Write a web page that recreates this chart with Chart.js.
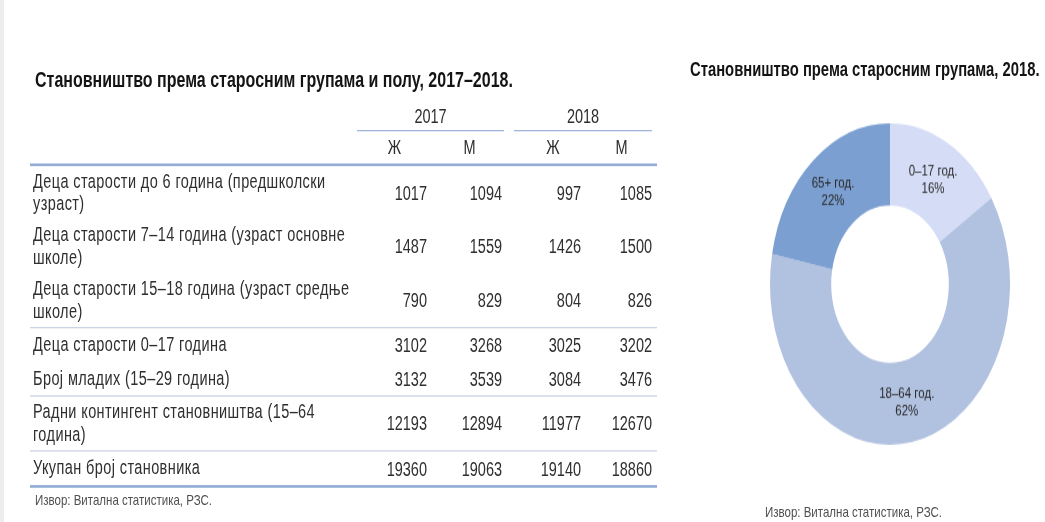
<!DOCTYPE html>
<html lang="sr">
<head>
<meta charset="utf-8">
<script src="https://cdn.jsdelivr.net/npm/chart.js@4.4.1/dist/chart.umd.min.js"></script>
<style>
    html, body { margin: 0; padding: 0; background: #fff; }
    body { width: 1045px; height: 522px; overflow: hidden; position: relative; }
    .edge { position: absolute; left: 0; top: 0; width: 4px; height: 522px; background: #ededed; }
    /* the whole sheet is drawn flat, then stretched vertically */
    #page {
        position: absolute; left: 0; top: 0; width: 1045px; height: 390px;
        transform: scaleY(1.34); transform-origin: 0 0;
        font-family: "Liberation Sans", Arial, sans-serif; color: #2f2f2f;
    }
    .title { position: absolute; font-weight: bold; color: #141414; white-space: nowrap; line-height: 20px; }
    .source { position: absolute; font-size: 11.5px; color: #505050; white-space: nowrap; line-height: 14px; }
    #popTable {
        position: absolute; left: 30px; top: 76px; width: 627px;
        border-collapse: collapse; table-layout: fixed; font-size: 14.5px;
    }
    #popTable td { padding: 0; vertical-align: middle; }
    #popTable td.lbl { padding-left: 3px; white-space: pre-line; line-height: 17.5px; letter-spacing: 0.4px; }
    #popTable td.num { text-align: right; padding-right: 5px; }
    #popTable td.hd { text-align: center; }
    #popTable tr.years td { height: 22px; }
    #popTable tr.sex td { height: 24px; border-bottom: 2px solid #94acd6; }
    #popTable tr.two td { height: 40px; }
    #popTable tr.one td { height: 25px; }
    #popTable tr.sep td { border-bottom: 1.5px solid #cdd3e2; }
    #popTable tr.last td { border-bottom: 2px solid #94acd6; }
    .yr { border-bottom: 1px solid #a3b5da; line-height: 20px; }
    #donutBox { position: absolute; left: 765px; top: 87px; width: 250px; height: 250px; }
</style>
</head>
<body>
<div class="edge"></div>
<div id="page">
    <div class="title" style="left:35px; top:50px; font-size:16px;">Становништво према старосним групама и полу, 2017–2018.</div>
    <table id="popTable">
        <colgroup>
            <col style="width:327px"><col style="width:75px"><col style="width:75px">
            <col style="width:13px"><col style="width:66px"><col style="width:71px">
        </colgroup>
        <tbody id="popBody"></tbody>
    </table>
    <div class="source" style="left:35px; top:366px;">Извор: Витална статистика, РЗС.</div>

    <div class="title" style="left:690px; top:42px; font-size:14.8px;">Становништво према старосним групама, 2018.</div>
    <div id="donutBox"><canvas id="ageChart"></canvas></div>
    <div class="source" style="left:765px; top:375px;">Извор: Витална статистика, РЗС.</div>
</div>

<script>
const years = ['2017', '2018'];
const sexes = ['Ж', 'М'];
const rowLabels = [
    'Деца старости до 6 година (предшколски\nузраст)',
    'Деца старости 7–14 година (узраст основне\nшколе)',
    'Деца старости 15–18 година (узраст средње\nшколе)',
    'Деца старости 0–17 година',
    'Број младих (15–29 година)',
    'Радни контингент становништва (15–64\nгодина)',
    'Укупан број становника'
];
const female2017 = [1017, 1487, 790, 3102, 3132, 12193, 19360];
const male2017 = [1094, 1559, 829, 3268, 3539, 12894, 19063];
const female2018 = [997, 1426, 804, 3025, 3084, 11977, 19140];
const male2018 = [1085, 1500, 826, 3202, 3476, 12670, 18860];

const ageGroups = ['0–17 год.', '18–64 год.', '65+ год.'];
const ageShares2018 = [16, 62, 22];

// rows followed by a separator line
const thinAfter = [2, 4, 5];

function buildTable() {
    const body = document.getElementById('popBody');
    let html = `
        <tr class="years">
            <td></td>
            <td colspan="2" class="hd"><div class="yr" style="margin-right:3px">${years[0]}</div></td>
            <td></td>
            <td colspan="2" class="hd"><div class="yr" style="margin-left:-6px; margin-right:5px">${years[1]}</div></td>
        </tr>
        <tr class="sex">
            <td></td>
            <td class="hd">${sexes[0]}</td><td class="hd">${sexes[1]}</td>
            <td></td>
            <td class="hd">${sexes[0]}</td><td class="hd">${sexes[1]}</td>
        </tr>`;
    html += rowLabels.map((label, i) => {
        const cls = [label.includes('\n') ? 'two' : 'one'];
        if (thinAfter.includes(i)) cls.push('sep');
        if (i === rowLabels.length - 1) cls.push('last');
        return `
        <tr class="${cls.join(' ')}">
            <td class="lbl">${label}</td>
            <td class="num">${female2017[i]}</td>
            <td class="num">${male2017[i]}</td>
            <td></td>
            <td class="num">${female2018[i]}</td>
            <td class="num">${male2018[i]}</td>
        </tr>`;
    }).join('');
    body.innerHTML = html;
}

// writes group name and share in the middle of each ring segment
const sliceLabels = {
    id: 'sliceLabels',
    afterDatasetsDraw(chart) {
        const ctx = chart.ctx;
        const meta = chart.getDatasetMeta(0);
        ctx.save();
        ctx.font = '11.5px "Liberation Sans", Arial, sans-serif';
        ctx.fillStyle = '#2a2a2a';
        ctx.textAlign = 'center';
        ctx.textBaseline = 'middle';
        meta.data.forEach((arc, i) => {
            const p = arc.tooltipPosition();
            ctx.fillText(chart.data.labels[i], p.x, p.y - 6);
            ctx.fillText(chart.data.datasets[0].data[i] + '%', p.x, p.y + 7);
        });
        ctx.restore();
    }
};

function drawAgeChart() {
    const ctx = document.getElementById('ageChart');
    new Chart(ctx, {
        type: 'doughnut',
        data: {
            labels: ageGroups,
            datasets: [{
                data: ageShares2018,
                backgroundColor: ['#d5ddf6', '#b1c1e0', '#7b9fd1'],
                borderWidth: 0
            }]
        },
        options: {
            responsive: true,
            maintainAspectRatio: false,
            animation: false,
            cutout: '49%',
            layout: { padding: 5 },
            plugins: { legend: { display: false }, tooltip: { enabled: false } }
        },
        plugins: [sliceLabels]
    });
}

buildTable();
drawAgeChart();
</script>
</body>
</html>
